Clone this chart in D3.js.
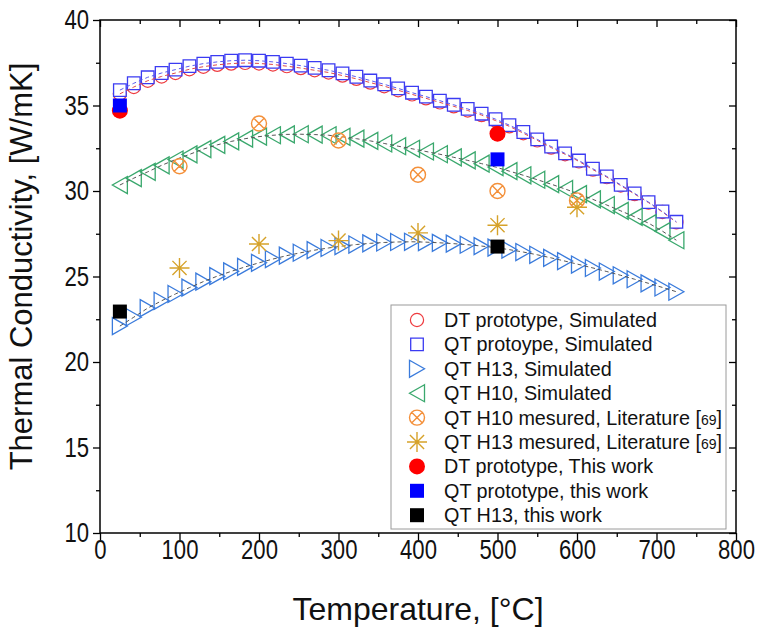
<!DOCTYPE html>
<html>
<head>
<meta charset="utf-8">
<script src="https://cdn.jsdelivr.net/npm/d3@7/dist/d3.min.js"></script>
<style>
  html, body { margin: 0; padding: 0; background: #fff; }
  svg { display: block; font-family: "Liberation Sans", Arial, sans-serif; }
</style>
</head>
<body>
<svg id="chart" width="763" height="632"></svg>
<script>
// Simulated temperatures (°C)
const simTemps = [25, 42.5, 60, 77.5, 95, 112.5, 130, 147.5, 165, 182.5, 200, 217.5, 235, 252.5, 270, 287.5, 305, 322.5, 340, 357.5, 375, 392.5, 410, 427.5, 445, 462.5, 480, 497.5, 515, 532.5, 550, 567.5, 585, 602.5, 620, 637.5, 655, 672.5, 690, 707.5, 725];

// Simulated thermal conductivity (W/mK)
const dtProtoSim = [35.68, 36.08, 36.45, 36.7, 36.9, 37.12, 37.27, 37.38, 37.45, 37.49, 37.46, 37.4, 37.3, 37.19, 37.06, 36.93, 36.75, 36.56, 36.34, 36.13, 35.89, 35.65, 35.42, 35.18, 34.95, 34.71, 34.44, 34.12, 33.78, 33.38, 32.96, 32.54, 32.15, 31.73, 31.25, 30.81, 30.32, 29.82, 29.32, 28.77, 28.17];
const qtProtoSim = [35.9, 36.3, 36.65, 36.9, 37.1, 37.3, 37.45, 37.55, 37.62, 37.65, 37.62, 37.55, 37.45, 37.33, 37.2, 37.06, 36.88, 36.68, 36.46, 36.24, 36.0, 35.75, 35.52, 35.28, 35.04, 34.8, 34.52, 34.2, 33.85, 33.45, 33.02, 32.6, 32.2, 31.78, 31.3, 30.85, 30.36, 29.86, 29.35, 28.8, 28.2];
const qtH13Sim = [22.1, 22.62, 23.15, 23.58, 23.98, 24.35, 24.7, 25.02, 25.3, 25.56, 25.8, 26.02, 26.22, 26.39, 26.54, 26.67, 26.78, 26.87, 26.94, 26.99, 27.02, 27.03, 27.01, 26.97, 26.92, 26.86, 26.78, 26.69, 26.57, 26.43, 26.27, 26.09, 25.9, 25.7, 25.5, 25.29, 25.07, 24.84, 24.6, 24.36, 24.11];
const qtH10Sim = [30.35, 30.75, 31.12, 31.5, 31.84, 32.14, 32.45, 32.7, 32.9, 33.06, 33.18, 33.26, 33.31, 33.32, 33.3, 33.26, 33.17, 33.06, 32.93, 32.78, 32.62, 32.47, 32.31, 32.15, 31.97, 31.79, 31.6, 31.4, 31.16, 30.92, 30.66, 30.4, 30.12, 29.82, 29.51, 29.18, 28.84, 28.49, 28.12, 27.65, 27.12];

// Literature measurements [69]
const litTemps = [100, 200, 300, 400, 500, 600];
const h10Measured = [31.45, 33.95, 32.95, 30.95, 30.0, 29.45];
const h13Measured = [25.5, 26.9, 27.1, 27.55, 28.0, 29.05];

// Measurements from this work
const workTemps = [25, 500];
const dtProtoWork = [34.7, 33.35];
const qtProtoWork = [35.0, 31.85];
const qtH13Work = [22.95, 26.75];

// Axis ticks
const xTicks = [0, 100, 200, 300, 400, 500, 600, 700, 800];
const xMinorTicks = [50, 150, 250, 350, 450, 550, 650, 750];
const yTicks = [10, 15, 20, 25, 30, 35, 40];
const yMinorTicks = [12.5, 17.5, 22.5, 27.5, 32.5, 37.5];

const svg = d3.select("#chart");
const plotLeft = 100, plotRight = 736, plotTop = 20, plotBottom = 533;
const x = d3.scaleLinear().domain([0, 800]).range([plotLeft, plotRight]);
const y = d3.scaleLinear().domain([10, 40]).range([plotBottom, plotTop]);

// ---- marker shapes ----
function circlePath(r) {
  return `M${-r},0A${r},${r} 0 1,0 ${r},0A${r},${r} 0 1,0 ${-r},0Z`;
}
function squarePath(s) {
  const h = s / 2;
  return `M${-h},${-h}H${h}V${h}H${-h}Z`;
}
function triRightPath(w, h) {
  return `M${-w / 2},${-h / 2}L${w / 2},0L${-w / 2},${h / 2}Z`;
}
function triLeftPath(w, h) {
  return `M${w / 2},${-h / 2}L${-w / 2},0L${w / 2},${h / 2}Z`;
}
function crossCirclePath(r) {
  const d = r * 0.72;
  return circlePath(r) + `M${-d},${-d}L${d},${d}M${-d},${d}L${d},${-d}`;
}
function starPath(r) {
  const d = r * 0.707;
  return `M${-r},0L${r},0M0,${-r}L0,${r}M${-d},${-d}L${d},${d}M${-d},${d}L${d},${-d}`;
}

const styles = {
  dtSim:  { path: circlePath(6.6), stroke: "#ee3b3f", fill: "#fff", sw: 1.2 },
  qtSim:  { path: squarePath(12.6), stroke: "#3b3bf2", fill: "#fff", sw: 1.3 },
  h13Sim: { path: triRightPath(15, 17), stroke: "#3a7bdc", fill: "none", sw: 1.3 },
  h10Sim: { path: triLeftPath(15, 17), stroke: "#3aa86d", fill: "none", sw: 1.3 },
  h10Lit: { path: crossCirclePath(7.5), stroke: "#f4903a", fill: "none", sw: 1.4 },
  h13Lit: { path: starPath(10), stroke: "#d6a22a", fill: "none", sw: 1.4 },
  dtWork: { path: circlePath(8), stroke: "none", fill: "#ff0000", sw: 0 },
  qtWork: { path: squarePath(14), stroke: "none", fill: "#0000ff", sw: 0 },
  h13Work:{ path: squarePath(14), stroke: "none", fill: "#000000", sw: 0 }
};

function drawMarkers(g, xs, ys, st) {
  g.selectAll(null)
    .data(xs.map((t, i) => [t, ys[i]]))
    .join("path")
    .attr("transform", d => `translate(${x(d[0])},${y(d[1])})`)
    .attr("d", st.path)
    .attr("fill", st.fill)
    .attr("stroke", st.stroke)
    .attr("stroke-width", st.sw);
}

function drawDashed(g, xs, ys, color) {
  const line = d3.line().x(d => x(d[0])).y(d => y(d[1]));
  g.append("path")
    .datum(xs.map((t, i) => [t, ys[i]]))
    .attr("d", line)
    .attr("fill", "none")
    .attr("stroke", color)
    .attr("stroke-width", 1)
    .attr("stroke-dasharray", "4,3");
}

const plot = svg.append("g");
drawMarkers(plot.append("g"), simTemps, dtProtoSim, styles.dtSim);
drawMarkers(plot.append("g"), simTemps, qtProtoSim, styles.qtSim);
drawMarkers(plot.append("g"), simTemps, qtH10Sim, styles.h10Sim);
drawMarkers(plot.append("g"), simTemps, qtH13Sim, styles.h13Sim);
drawDashed(plot, simTemps, dtProtoSim, "#e04848");
drawDashed(plot, simTemps, qtProtoSim, "#5a5af0");
drawDashed(plot, simTemps, qtH10Sim, "#555");
drawDashed(plot, simTemps, qtH13Sim, "#555");
drawMarkers(plot.append("g"), litTemps, h10Measured, styles.h10Lit);
drawMarkers(plot.append("g"), litTemps, h13Measured, styles.h13Lit);
drawMarkers(plot.append("g"), workTemps, dtProtoWork, styles.dtWork);
drawMarkers(plot.append("g"), workTemps, qtProtoWork, styles.qtWork);
drawMarkers(plot.append("g"), workTemps, qtH13Work, styles.h13Work);

// ---- axes ----
// tick labels use a condensed face: regular glyphs squeezed horizontally
const tickFont = 27, squeeze = 0.82;
function styleAxis(g) {
  g.select(".domain").remove();
  g.selectAll("line").attr("stroke", "#000").attr("stroke-width", 1.3);
  g.selectAll("text").attr("font-size", tickFont).attr("fill", "#111")
    .attr("font-family", "Liberation Sans, Arial, sans-serif");
}

svg.append("g").attr("transform", `translate(0,${plotBottom})`)
  .call(d3.axisBottom(x).tickValues(xTicks).tickSize(7).tickPadding(0).tickFormat(d3.format("d")))
  .call(styleAxis)
  .call(g => g.selectAll("text").attr("transform", `scale(${squeeze},1)`));
svg.append("g").attr("transform", `translate(0,${plotBottom})`)
  .call(d3.axisBottom(x).tickValues(xMinorTicks).tickSize(4).tickFormat(""))
  .call(styleAxis);
svg.append("g").attr("transform", `translate(${plotLeft},0)`)
  .call(d3.axisLeft(y).tickValues(yTicks).tickSize(7).tickPadding(4).tickFormat(d3.format("d")))
  .call(styleAxis)
  .call(g => g.selectAll("text")
    .attr("x", -11 / squeeze)
    .attr("transform", `scale(${squeeze},1)`));
svg.append("g").attr("transform", `translate(${plotLeft},0)`)
  .call(d3.axisLeft(y).tickValues(yMinorTicks).tickSize(4).tickFormat(""))
  .call(styleAxis);
// mirrored ticks on the top and right edges, pointing inward
svg.append("g").attr("transform", `translate(0,${plotTop})`)
  .call(d3.axisTop(x).tickValues(xTicks).tickSize(-7).tickFormat(""))
  .call(styleAxis);
svg.append("g").attr("transform", `translate(0,${plotTop})`)
  .call(d3.axisTop(x).tickValues(xMinorTicks).tickSize(-4).tickFormat(""))
  .call(styleAxis);
svg.append("g").attr("transform", `translate(${plotRight},0)`)
  .call(d3.axisRight(y).tickValues(yTicks).tickSize(-7).tickFormat(""))
  .call(styleAxis);
svg.append("g").attr("transform", `translate(${plotRight},0)`)
  .call(d3.axisRight(y).tickValues(yMinorTicks).tickSize(-4).tickFormat(""))
  .call(styleAxis);

// frame
svg.append("rect")
  .attr("x", plotLeft).attr("y", plotTop)
  .attr("width", plotRight - plotLeft).attr("height", plotBottom - plotTop)
  .attr("fill", "none").attr("stroke", "#000").attr("stroke-width", 1.5);

// axis titles
svg.append("text")
  .attr("x", (plotLeft + plotRight) / 2).attr("y", 620)
  .attr("text-anchor", "middle").attr("font-size", 32).attr("fill", "#111")
  .text("Temperature, [°C]");
svg.append("text")
  .attr("transform", `translate(32,${(plotTop + plotBottom) / 2 - 10}) rotate(-90)`)
  .attr("text-anchor", "middle").attr("font-size", 31).attr("fill", "#111")
  .text("Thermal Conductivity, [W/mK]");

// ---- legend ----
const legendItems = [
  { st: styles.dtSim, label: ["DT prototype, Simulated"] },
  { st: styles.qtSim, label: ["QT protoype, Simulated"] },
  { st: styles.h13Sim, label: ["QT H13, Simulated"] },
  { st: styles.h10Sim, label: ["QT H10, Simulated"] },
  { st: styles.h10Lit, label: ["QT H10 mesured, Literature [", "69", "]"] },
  { st: styles.h13Lit, label: ["QT H13 mesured, Literature [", "69", "]"] },
  { st: styles.dtWork, label: ["DT prototype, This work"] },
  { st: styles.qtWork, label: ["QT prototype, this work"] },
  { st: styles.h13Work, label: ["QT H13, this work"] }
];
const legendFont = 19.8;
const legend = svg.append("g");
legend.append("rect")
  .attr("x", 391).attr("y", 305).attr("width", 335).attr("height", 224)
  .attr("fill", "#fff").attr("stroke", "#9a9a9a").attr("stroke-width", 1);
legendItems.forEach((it, i) => {
  const cy = 320 + i * 24.4;
  legend.append("path")
    .attr("transform", `translate(417,${cy})`)
    .attr("d", it.st.path)
    .attr("fill", it.st.fill === "#fff" ? "none" : it.st.fill)
    .attr("stroke", it.st.stroke)
    .attr("stroke-width", it.st.sw);
  const t = legend.append("text")
    .attr("x", 444).attr("y", cy + 7)
    .attr("font-size", legendFont).attr("fill", "#111");
  it.label.forEach((s, j) => {
    t.append("tspan").text(s).attr("font-size", j === 1 ? 14 : legendFont);
  });
});
</script>
</body>
</html>
